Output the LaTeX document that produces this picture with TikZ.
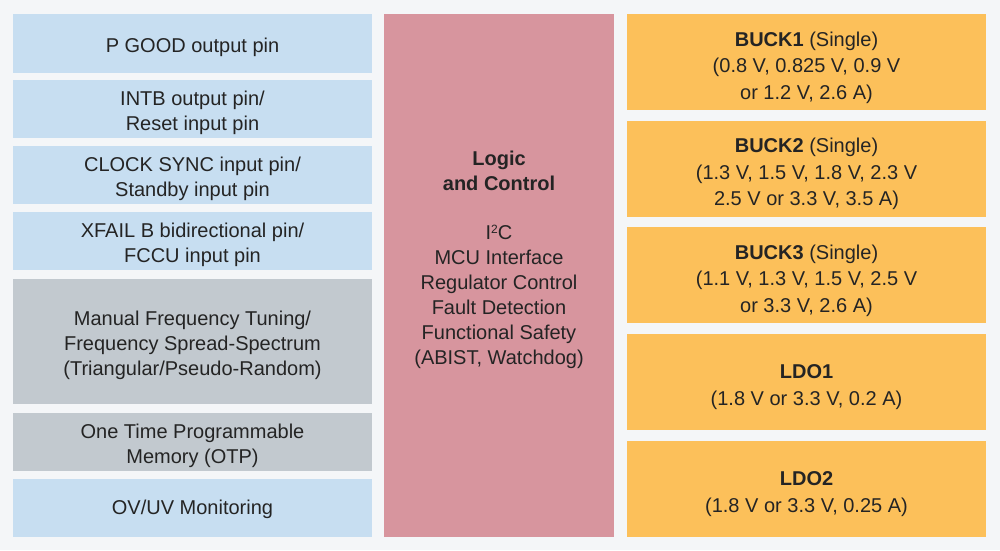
\documentclass[tikz,border=0pt]{standalone}
\usepackage{fontspec}
\setmainfont{Liberation Sans}
\definecolor{bgc}{HTML}{F4F6F8}
\definecolor{bluec}{HTML}{C7DEF1}
\definecolor{grayc}{HTML}{C2C9CF}
\definecolor{pinkc}{HTML}{D7959E}
\definecolor{orangec}{HTML}{FCC05A}
\definecolor{txt}{HTML}{242424}
\begin{document}
\begin{tikzpicture}[x=1pt,y=-1pt,
  boxbase/.style={inner sep=0pt, align=center, text=txt,
    font=\fontsize{20}{25}\selectfont},
  leftbox/.style={boxbase, fill=#1, minimum width=359pt},
  rightbox/.style={boxbase, fill=orangec, minimum width=359pt, minimum height=96pt},
  midbox/.style={boxbase, fill=pinkc, minimum width=230pt, minimum height=523pt},
  lbl/.style={boxbase},
  rlbl/.style={lbl, font=\fontsize{20}{26.5}\selectfont, yshift=-5.5pt}]
\fill[bgc] (0,0) rectangle (1000,550);
\useasboundingbox (0,0) rectangle (1000,550);
% left column
\node[leftbox=bluec, minimum height=59pt] (pgood) at (192.5,43.5) {};
\node[leftbox=bluec, minimum height=58pt] (intb) at (192.5,109) {};
\node[leftbox=bluec, minimum height=58pt] (clk) at (192.5,175) {};
\node[leftbox=bluec, minimum height=58pt] (xfail) at (192.5,241) {};
\node[leftbox=grayc, minimum height=125pt] (freq) at (192.5,341.5) {};
\node[leftbox=grayc, minimum height=58pt] (otp) at (192.5,442) {};
\node[leftbox=bluec, minimum height=58pt] (ovuv) at (192.5,508) {};
\node[lbl, yshift=-3.5pt] (pgoodt) at (pgood) {P GOOD output pin};
\node[lbl, yshift=-3.5pt] (intbt) at (intb) {INTB output pin/\\Reset input pin};
\node[lbl, yshift=-3.5pt] (clkt) at (clk) {CLOCK SYNC input pin/\\Standby input pin};
\node[lbl, yshift=-3.5pt] (xfailt) at (xfail) {XFAIL B bidirectional pin/\\FCCU input pin};
\node[lbl, yshift=-3.5pt] (freqt) at (freq) {Manual Frequency Tuning/\\Frequency Spread-Spectrum\\(Triangular/Pseudo-Random)};
\node[lbl, yshift=-3.5pt] (otpt) at (otp) {One Time Programmable\\Memory (OTP)};
\node[lbl, yshift=-1.5pt] (ovuvt) at (ovuv) {OV/UV Monitoring};
% middle
\node[midbox] (logic) at (499,275.5) {};
\node[lbl] (logictxt) at (499,260) {\textbf{Logic}\\\textbf{and Control}\\[24pt]I{\fontsize{12}{12}\selectfont\raisebox{6pt}{2}}C\\MCU Interface\\Regulator Control\\Fault Detection\\Functional Safety\\(ABIST, Watchdog)};
% right column
\node[rightbox] (buck1) at (806.5,62) {};
\node[rightbox] (buck2) at (806.5,168.6) {};
\node[rightbox] (buck3) at (806.5,275.2) {};
\node[rightbox] (ldo1) at (806.5,381.8) {};
\node[rightbox] (ldo2) at (806.5,488.5) {};
\node[rlbl] (buck1t) at (buck1) {\textbf{BUCK1} (Single)\\(0.8 V, 0.825 V, 0.9 V\\or 1.2 V, 2.6 A)};
\node[rlbl] (buck2t) at (buck2) {\textbf{BUCK2} (Single)\\(1.3 V, 1.5 V, 1.8 V, 2.3 V\\2.5 V or 3.3 V, 3.5 A)};
\node[rlbl] (buck3t) at (buck3) {\textbf{BUCK3} (Single)\\(1.1 V, 1.3 V, 1.5 V, 2.5 V\\or 3.3 V, 2.6 A)};
\node[rlbl] (ldo1t) at (ldo1) {\textbf{LDO1}\\(1.8 V or 3.3 V, 0.2 A)};
\node[rlbl] (ldo2t) at (ldo2) {\textbf{LDO2}\\(1.8 V or 3.3 V, 0.25 A)};
\end{tikzpicture}
\end{document}
